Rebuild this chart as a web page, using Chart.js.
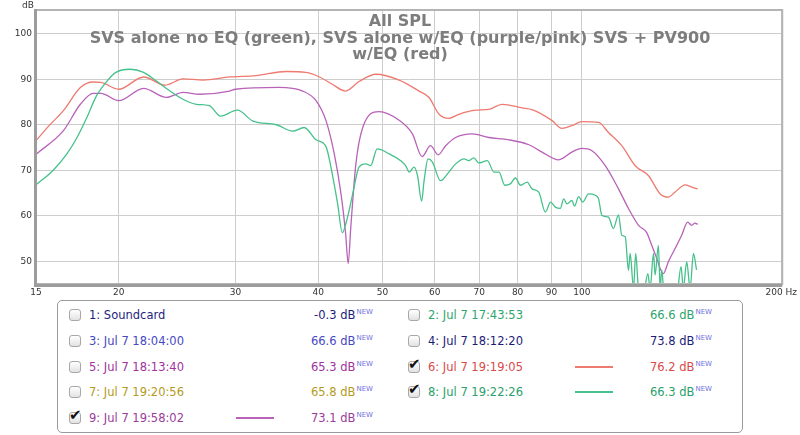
<!DOCTYPE html>
<html>
<head>
<meta charset="utf-8">
<script src="https://cdn.jsdelivr.net/npm/chart.js@4.4.1/dist/chart.umd.min.js"></script>
<style>
  body { margin: 0; background: #fff; font-family: "DejaVu Sans", sans-serif; }
  #wrap { position: relative; width: 800px; height: 300px; }
  #legend { position: absolute; left: 57px; top: 300px; width: 684px; height: 131px;
            border: 1px solid #9a9a9a; border-radius: 5px; background: #fff; }
  .box { position: absolute; width: 12px; height: 12px; border: 1px solid #a8a8a8; border-radius: 3px;
         background: linear-gradient(#ffffff, #e2e2e2); box-sizing: border-box; }
  .tick { position: absolute; font-size: 15px; line-height: 15px; color: #111; font-weight: bold; }
  .name, .val { position: absolute; font-size: 11.5px; line-height: 14px; white-space: nowrap; }
  .val sup { font-size: 7px; line-height: 0; color: #7070e0; position: relative; top: -5px;
             vertical-align: baseline; margin-left: 1px; }
  .sample { position: absolute; height: 2px; width: 38px; }
</style>
</head>
<body>
<div id="wrap"><canvas id="splChart"></canvas></div>
<div id="legend"></div>
<script>
// axes
var xTicks = [15, 20, 30, 40, 50, 60, 70, 80, 90, 100, 200];
var yTicks = [50, 60, 70, 80, 90, 100];

var titleLines = ['All SPL',
  'SVS alone no EQ (green), SVS alone w/EQ (purple/pink) SVS + PV900',
  'w/EQ (red)'];

// 6: Jul 7 19:19:05 (red)
var redFreq = [15, 15.7, 16.5, 17.5, 18.3, 18.8, 20, 21.8, 23.5, 25, 26.8, 29.4, 32.2, 35.8, 38.3, 40.2, 42, 44,
  46.1, 48.9, 53, 56.8, 58.8, 60.9, 63, 65.2, 69.1, 72.4, 75.8, 81.3, 84.1, 90.2, 93.3, 96.6, 100, 106,
  109.7, 114.9, 120.4, 126.1, 131.3, 135.1, 138.3, 143.2, 146.5, 149.6];
var redDb = [76.5, 79.8, 83.1, 88.2, 89.4, 89.3, 87.8, 90.5, 88.7, 90.1, 89.8, 90.5, 90.8, 91.7, 91.5, 90.5, 88.9, 87.4,
  89.5, 91.1, 89.8, 87.4, 86.0, 82.3, 81.4, 82.3, 83.2, 83.4, 84.5, 83.7, 83.3, 80.9, 79.2, 79.8, 80.7, 80.5,
  78.3, 75.4, 71.0, 68.8, 64.8, 64.1, 65.2, 66.8, 66.3, 65.9];

// 9: Jul 7 19:58:02 (purple)
var purpleFreq = [15, 16.5, 17.5, 18.3, 18.8, 20, 21.8, 23.6, 25, 26.5, 29.4, 30, 34.9, 37.9, 39.7, 41.1, 42.3,
  43.3, 44, 44.4, 44.8, 45.6, 46.7, 49.4, 53, 55.5, 57.4, 59.1, 60.7, 62.3, 64.5, 68.3, 72.4, 77.6, 83.2,
  87.1, 92.3, 96.6, 100, 103.6, 108.5, 113.6, 117.6, 121.8, 125.3, 127.5, 129.8, 131.3, 132.8, 135.1,
  138.3, 141.5, 144.5, 146.5, 148.2, 149.6];
var purpleDb = [73.5, 78.7, 84.5, 86.9, 86.9, 85.3, 88.0, 86.0, 87.1, 86.7, 87.4, 87.8, 88.2, 87.4, 85.3, 80.9, 73.6,
  64.8, 56.1, 49.5, 57.5, 71.4, 79.4, 82.9, 81.0, 78.0, 73.0, 75.4, 73.4, 75.4, 77.2, 78.0, 77.2, 76.7, 75.6,
  74.0, 72.3, 74.0, 74.8, 74.3, 71.0, 65.9, 61.6, 57.9, 56.3, 53.5, 50.6, 48.4, 47.3, 49.9,
  52.8, 55.7, 58.6, 57.9, 58.4, 58.1];

// 8: Jul 7 19:22:26 (green)
var greenFreq = [15, 15.9, 16.7, 17.3, 17.9, 18.5, 19.2, 19.8, 20.8, 21.8, 22.8, 23.9, 25, 26.2, 27.4, 28.5, 30.2,
  31.9, 34.6, 36.6, 38.1, 39.7, 41.1, 42, 42.8, 43.5, 44.3, 45.1, 46.1, 47.2, 48, 49.1, 51.2, 53.3, 54.2,
  54.9, 55.8, 56.5, 57.3, 57.8, 58.6, 59.5, 61.2, 63, 64.5, 66.4, 67.5, 68.7, 69.9, 72, 73.7, 75, 76.5,
  78, 79.4, 80.8, 82.7, 84.1, 86.1, 88.1, 89.7, 91.2, 92.8, 93.9, 95, 96.6, 97.5, 98.9, 100.3, 102.4,
  104.8, 106, 107.2, 109.7, 111.6, 113.6, 114.9, 116.3, 117.6, 118.3, 119.7, 120.6, 121.8, 123.9, 125.8,
  126.8, 128.3, 129, 130.5, 131.3, 132, 133.1, 136.1, 138.9, 141.2, 142.3, 144, 145.7, 147.4, 149];
var greenDb = [66.8, 69.9, 73.6, 77.2, 81.6, 86.3, 89.6, 91.5, 92.2, 91.5, 89.6, 87.4, 85.6, 84.5, 84.2, 81.9, 83.2,
  80.8, 80.0, 78.6, 79.4, 76.7, 75.2, 69.2, 62.6, 56.3, 59.7, 64.8, 70.7, 71.4, 71.0, 74.7, 73.6, 72.1, 71.0,
  69.6, 70.7, 68.8, 63.2, 67.7, 72.5, 71.8, 67.7, 69.6, 71.4, 72.5, 72.1, 72.7, 71.6, 72.1, 69.6, 69.6, 66.7,
  67.0, 68.3, 66.7, 67.4, 65.9, 65.2, 60.8, 63.0, 61.9, 61.6, 63.7, 62.6, 63.4, 62.1, 64.2, 63.0, 64.8,
  64.5, 63.7, 60.1, 59.7, 57.2, 60.2, 55.7, 55.4, 48.0, 51.7, 44.0, 51.7, 44.0, 43.0, 47.3,
  44.0, 51.7, 47.0, 53.5, 44.0, 48.1, 43.0, 42.0, 42.0, 48.8, 44.0, 49.9, 44.0, 51.7, 48.1];

// legend rows
var legendNames = ['1: Soundcard', '3: Jul 7 18:04:00', '5: Jul 7 18:13:40', '7: Jul 7 19:20:56', '9: Jul 7 19:58:02',
  '2: Jul 7 17:43:53', '4: Jul 7 18:12:20', '6: Jul 7 19:19:05', '8: Jul 7 19:22:26'];
var legendValues = ['-0.3', '66.6', '65.3', '65.8', '73.1', '66.6', '73.8', '76.2', '66.3'];
var legendColors = ['#1e1e7c', '#4848c4', '#a0329e', '#b49a22', '#9a3c9a', '#2ea56c', '#1c1c78', '#d84a4a', '#2aa06a'];
var legendChecked = [false, false, false, false, true, false, false, true, true];

var redColor = '#ee7a70';
var purpleColor = '#b862b8';
var greenColor = '#45c18b';

function points(fs, ds) {
  return fs.map(function (f, i) { return { x: f, y: ds[i] }; });
}

var overlay = {
  id: 'overlay',
  beforeDatasetsDraw: function (chart) {
    var c = chart.ctx;
    c.save();
    c.fillStyle = '#7d7d7d';
    c.font = 'bold 16px "DejaVu Sans"';
    c.textAlign = 'center';
    c.textBaseline = 'middle';
    var cy = [21.5, 38.5, 55];
    titleLines.forEach(function (t, i) { c.fillText(t, 400, cy[i]); });
    c.restore();
  },
  afterDraw: function (chart) {
    var c = chart.ctx, a = chart.chartArea;
    c.save();
    c.strokeStyle = '#b4b4b4';
    c.lineWidth = 2;
    c.strokeRect(a.left, a.top - 1, a.right - a.left + 1, a.bottom - a.top + 1);
    c.strokeStyle = '#9c9c9c';
    c.lineWidth = 3;
    c.beginPath();
    c.moveTo(a.left - 0.5, a.top - 2);
    c.lineTo(a.left - 0.5, a.bottom + 1.5);
    c.lineTo(a.right + 1, a.bottom + 1.5);
    c.stroke();
    c.fillStyle = '#333';
    c.font = '9px "DejaVu Sans"';
    c.textAlign = 'center';
    c.textBaseline = 'middle';
    c.fillText('dB', 28, 6);
    c.restore();
  }
};

var ctx = document.getElementById('splChart').getContext('2d');
var splChart = new Chart(ctx, {
  type: 'line',
  data: {
    datasets: [
      { label: '8: Jul 7 19:22:26', data: points(greenFreq, greenDb), borderColor: greenColor },
      { label: '9: Jul 7 19:58:02', data: points(purpleFreq, purpleDb), borderColor: purpleColor },
      { label: '6: Jul 7 19:19:05', data: points(redFreq, redDb), borderColor: redColor }
    ]
  },
  options: {
    responsive: true,
    maintainAspectRatio: false,
    animation: false,
    layout: { padding: { left: 0, right: 17, top: 11, bottom: 0 } },
    elements: {
      line: { borderWidth: 1.3, cubicInterpolationMode: 'monotone', fill: false },
      point: { radius: 0 }
    },
    plugins: { legend: { display: false }, tooltip: { enabled: false } },
    scales: {
      x: {
        type: 'logarithmic', min: 15, max: 200,
        afterBuildTicks: function (axis) { axis.ticks = xTicks.map(function (v) { return { value: v }; }); },
        afterFit: function (scale) { scale.height = 16; },
        grid: { color: '#cdcdcd', drawTicks: false },
        border: { display: false },
        ticks: {
          autoSkip: false, maxRotation: 0, padding: 3, color: '#333',
          font: { family: 'DejaVu Sans', size: 9 },
          callback: function (v) { return v === 200 ? '200 Hz' : String(v); }
        }
      },
      y: {
        min: 45, max: 105,
        afterBuildTicks: function (axis) { axis.ticks = yTicks.map(function (v) { return { value: v }; }); },
        afterFit: function (scale) { scale.width = 36; },
        grid: { color: '#cdcdcd', drawTicks: false },
        border: { display: false },
        ticks: { padding: 4, color: '#333', font: { family: 'DejaVu Sans', size: 9 } }
      }
    }
  },
  plugins: [overlay]
});

// legend box below the plot
var lg = document.getElementById('legend');
var sampleColors = { 4: purpleColor, 7: redColor, 8: greenColor };
legendNames.forEach(function (name, i) {
  var col = i < 5 ? 0 : 1;
  var row = col === 0 ? i : i - 5;
  var ox = col === 0 ? 0 : 339;
  var cy = 14 + row * 25.8;
  var html = '<div class="box" style="left:' + (11 + ox) + 'px;top:' + (cy - 6) + 'px"></div>';
  if (legendChecked[i]) {
    html += '<div class="tick" style="left:' + (11 + ox) + 'px;top:' + (cy - 10) + 'px">\u2714</div>';
  }
  html += '<div class="name" style="left:' + (31 + ox) + 'px;top:' + (cy - 7) + 'px;color:' + legendColors[i] + '">' + name + '</div>';
  if (sampleColors[i]) {
    html += '<div class="sample" style="left:' + (178 + ox) + 'px;top:' + (cy - 1) + 'px;background:' + sampleColors[i] + '"></div>';
  }
  html += '<div class="val" style="right:' + (684 - 315 - ox) + 'px;top:' + (cy - 7) + 'px;color:' + legendColors[i] + '">' +
    legendValues[i] + ' dB<sup>NEW</sup></div>';
  lg.insertAdjacentHTML('beforeend', html);
});
</script>
</body>
</html>
